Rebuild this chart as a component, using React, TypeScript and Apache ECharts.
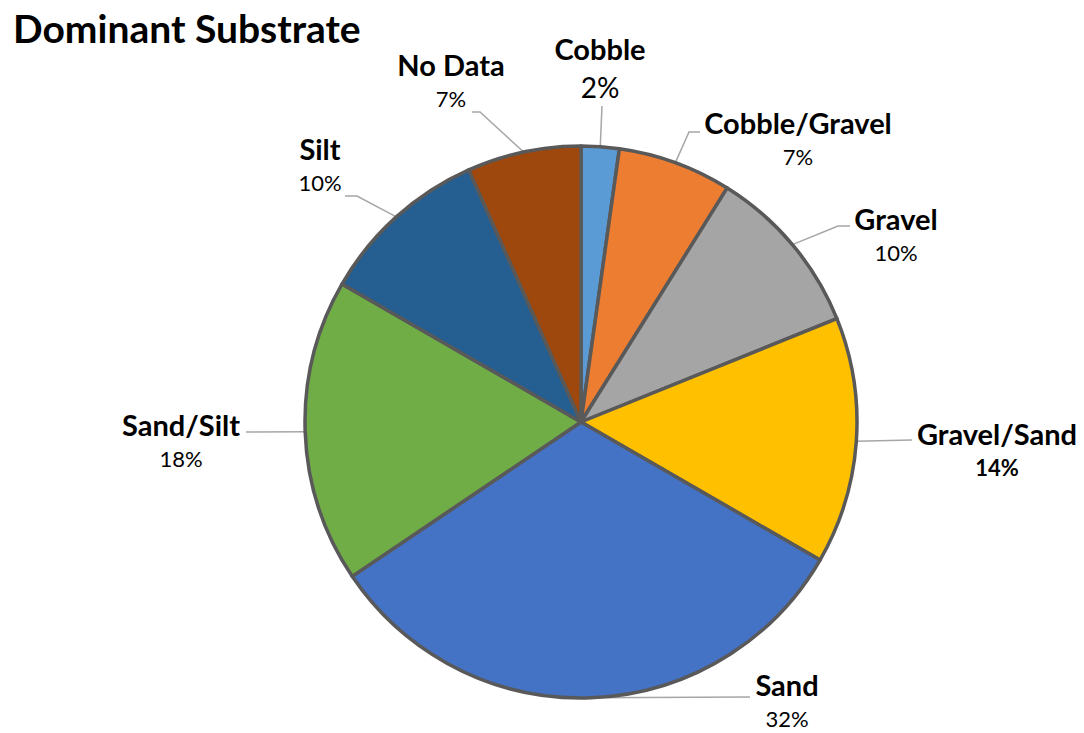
import React, { useEffect, useRef } from "react";
import * as echarts from "echarts";

// Dominant substrate recorded at each site, clockwise from 12 o'clock
const categories = [
  "Cobble",
  "Cobble/Gravel",
  "Gravel",
  "Gravel/Sand",
  "Sand",
  "Sand/Silt",
  "Silt",
  "No Data",
];
const siteCounts = [2, 6, 9, 13, 29, 16, 9, 6];
const sliceColors = [
  "#5B9BD5",
  "#ED7D31",
  "#A5A5A5",
  "#FFC000",
  "#4472C4",
  "#70AD47",
  "#255E91",
  "#9E480E",
];

// Pie geometry in chart pixels
const CX = 581;
const CY = 422;
const R = 276;

// Label block centres and the bends of each leader line (after its start on the rim)
const labelSpots: { x: number; y: number; bend: number[][] }[] = [
  { x: 600, y: 70, bend: [[602, 106]] },
  { x: 798, y: 139, bend: [[689, 132], [700, 132]] },
  { x: 896, y: 235, bend: [[838, 226], [850, 226]] },
  { x: 997, y: 450, bend: [[912, 440]] },
  { x: 787, y: 701, bend: [[750, 697]] },
  { x: 181, y: 441, bend: [[246, 432]] },
  { x: 320, y: 165, bend: [[357, 196], [345, 196]] },
  { x: 451, y: 81, bend: [[480, 112], [472, 112]] },
];

const FONT = "Lato, 'Open Sans', sans-serif";

export default function App() {
  const ref = useRef<HTMLDivElement>(null);

  useEffect(() => {
    if (!ref.current) return;
    const chart = echarts.init(ref.current, undefined, { renderer: "svg" });

    const total = siteCounts.reduce((a, b) => a + b, 0);
    let acc = 0;
    // leader lines start on the rim at each slice's mid angle
    const rimPoints = siteCounts.map((v) => {
      const a = ((acc + v / 2) / total) * Math.PI * 2;
      acc += v;
      return [CX + R * Math.sin(a), CY - R * Math.cos(a)];
    });

    const pctKey = (name: string) =>
      name === "Cobble" ? "pBig" : name === "Gravel/Sand" ? "pBold" : "p";

    chart.setOption({
      animation: false,
      backgroundColor: "#ffffff",
      title: {
        text: "Dominant Substrate",
        left: 8,
        top: 3,
        textStyle: {
          fontFamily: FONT,
          fontSize: 39,
          fontWeight: "bold",
          color: "#000000",
        },
      },
      series: [
        {
          type: "pie",
          center: [CX, CY],
          radius: R,
          startAngle: 90,
          clockwise: true,
          avoidLabelOverlap: false,
          itemStyle: { borderColor: "#595959", borderWidth: 3.5 },
          label: {
            show: true,
            position: "outside",
            fontFamily: FONT,
            color: "#000000",
            formatter: (p: any) =>
              `{n|${p.name}}\n{${pctKey(p.name)}|${Math.round(p.percent)}%}`,
            rich: {
              n: {
                fontFamily: FONT,
                fontSize: 29,
                fontWeight: "bold",
                lineHeight: 34,
                align: "center",
                color: "#000000",
              },
              p: {
                fontFamily: FONT,
                fontSize: 22,
                lineHeight: 33,
                align: "center",
                color: "#000000",
              },
              pBold: {
                fontFamily: FONT,
                fontSize: 22,
                fontWeight: "bold",
                lineHeight: 33,
                align: "center",
                color: "#000000",
              },
              pBig: {
                fontFamily: FONT,
                fontSize: 28,
                lineHeight: 44,
                align: "center",
                color: "#000000",
              },
            },
          },
          labelLine: {
            show: true,
            smooth: false,
            lineStyle: { color: "#A6A6A6", width: 1.5 },
          },
          labelLayout: (params: any) => {
            const i = params.dataIndex;
            const s = labelSpots[i];
            return {
              x: s.x,
              y: s.y,
              align: "center",
              verticalAlign: "middle",
              labelLinePoints: [rimPoints[i], ...s.bend],
            };
          },
          data: categories.map((name, i) => ({
            name,
            value: siteCounts[i],
            itemStyle: { color: sliceColors[i] },
          })),
        },
      ],
    });

    return () => chart.dispose();
  }, []);

  return (
    <div
      ref={ref}
      style={{ position: "fixed", left: 0, top: 0, width: 1084, height: 733 }}
    />
  );
}
